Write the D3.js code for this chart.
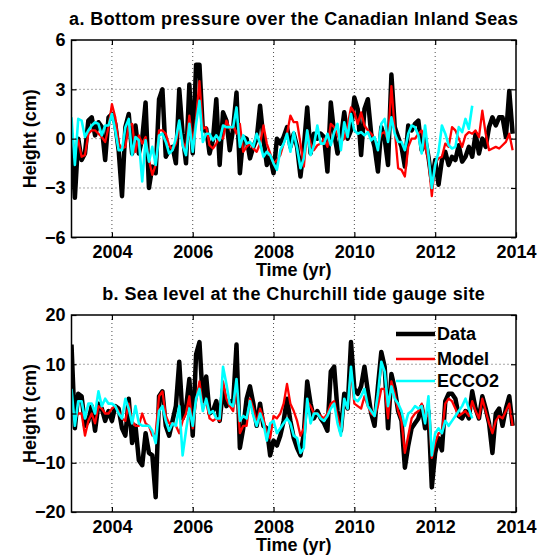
<!DOCTYPE html>
<html>
<head>
<meta charset="utf-8">
<title>Bottom pressure and Churchill sea level</title>
<style>
  body { margin: 0; background: #fff; }
  text { font-family: "Liberation Sans", Arial, Helvetica, sans-serif; font-weight: bold; fill: #000; }
  .grid line { stroke: #000; stroke-opacity: 0.7; stroke-dasharray: 1,3; }
</style>
</head>
<body>
<script src="https://cdnjs.cloudflare.com/ajax/libs/d3/7.8.5/d3.min.js"></script>
<script>
// monthly series, first value = Jan 2003
var startYear = 2003;
var xTicks = [2004, 2006, 2008, 2010, 2012, 2014];

// panel a: bottom pressure (cm)
var bpYTicks = [-6, -3, 0, 3, 6];
var bpData = [0.3,-3.6,0,-1.3,-0.9,1.1,1.3,0.2,1.0,0.7,-1.3,1.3,
  1.5,0.9,-0.7,-3.5,0.7,1.5,-0.9,0.8,-0.9,0,2.2,-3.0,
  -1.7,-2.1,2.4,3.0,-1.1,-0.7,-0.5,-1.5,3.0,0.3,-1.5,3.3,
  -0.9,4.5,4.5,0.5,0.6,-0.9,-0.1,2.4,-1.6,1.6,1.1,-0.7,
  0.6,2.8,-2.1,0.1,0,-1.2,-0.5,0,2.0,0,-1.6,-1.1,
  -2.1,0,-0.3,0.1,0.7,-0.5,0.3,-0.5,-2.3,-0.5,1.9,-0.9,
  0.3,0,0.3,0.1,-2.0,2.2,0.3,-0.9,0,1.6,0,0.5,
  2.5,1.8,-1.0,1.8,2.4,0.3,-0.5,-2.0,0.7,0,-1.6,3.9,
  0.7,0.1,-0.5,-1.7,0.8,0.5,0.9,1.1,-0.7,0,-1.1,-2.6,
  -1.3,-2.8,-1.3,-0.8,-1.6,-1.1,-1.3,-0.4,-1.4,-1.1,-0.5,-1.1,
  0.3,-0.9,0,-0.5,0.7,1.3,0.8,1.3,1.3,0.1,2.9,0.3];
var bpModel = [0.0,-0.8,-0.1,-1.1,-1.0,0.3,0.5,0.5,0.3,0.1,-0.2,0.7,
  2.1,1.3,-0.3,-0.6,-0.5,0.8,0.9,-0.8,0.2,-0.3,0.1,-1.3,
  -2.2,-1.6,0.5,0.5,0.3,-0.4,-0.7,-0.3,0.8,-0.2,-0.6,1.4,
  -0.3,1.2,3.5,0.6,0.7,-0.4,-0.6,-0.3,0.1,0.0,1.1,0.6,
  0.8,0.3,0.9,-0.8,-0.5,-0.3,-0.6,-0.8,-0.3,0.8,-0.3,-0.9,
  -1.5,-1.3,-1.0,-0.3,0.3,1.4,1.0,1.0,-0.3,-1.7,0.5,-0.3,
  -0.7,-0.4,-0.3,0.0,-0.5,0.9,0.7,0.2,-0.2,0.0,0.8,1.9,
  1.6,0.9,1.6,0.8,0.5,0.3,0.0,-0.4,0.3,0.4,-0.1,3.2,
  0.5,-1.8,-1.9,-2.3,-0.5,0.0,0.0,0.3,0.5,-0.5,-1.3,-3.5,
  -1.5,-1.2,-1.1,-0.3,-0.5,0.7,0.5,0.0,-0.5,0.2,0.4,0.3,
  0.5,0.1,1.7,0.3,-0.7,-0.6,-0.5,-0.6,-0.4,-0.2,0.3,-0.7];
var bpEcco = [1.3,-1.6,1.2,1.1,0.1,0.5,0.8,1.0,0.9,0.2,0.8,0.8,
  1.5,0.5,-0.7,-0.7,0.7,1.2,-1.0,0.1,-0.1,-2.6,-0.1,-1.4,
  -0.5,-1.6,0.2,0.3,-0.2,-0.9,-0.7,0.0,1.1,-0.4,-1.0,0.9,
  -0.8,0.9,2.3,-0.2,0.3,0.3,-0.1,0.2,-0.1,0.8,0.7,0.7,
  0.7,1.9,-0.5,0.2,-0.3,-0.2,-0.5,0.3,-0.3,-1.1,-0.8,-1.0,
  -1.5,-1.9,-0.7,-0.3,0.3,-0.8,0.4,-0.6,-1.8,-1.2,0.5,-1.0,
  -0.4,0.8,-0.3,-0.3,0.3,-0.4,0.4,0.9,-0.7,1.0,0.1,1.5,
  0.5,0.3,0.4,0.2,0.4,-0.1,0.1,-0.7,0.9,1.2,-0.2,1.3,
  0.3,-0.2,-0.2,-0.7,0.3,0.8,0.7,0.2,-0.9,0.8,-1.0,-3.0,
  -1.6,-0.8,0.8,0.3,-0.4,-0.6,-0.5,0.7,0.4,1.2,0.6,2.0];

// panel b: Churchill sea level (cm)
var slYTicks = [-20, -10, 0, 10, 20];
var slData = [14,-3,4,3.5,-2.5,-1.5,1.5,-3.5,2.0,1.0,-1.5,0.5,
  -1.5,1.5,1.0,-3.0,-4.5,3.0,-6.0,-2.5,-9.5,-10.5,-4.0,-8.0,
  -8.5,-17.0,3.5,4.5,-2.5,-4.5,-1.5,1.5,10.5,-1.0,1.0,7.0,
  -4.5,12.0,14.5,2.5,7.5,0.0,0.5,2.5,-1.5,5.0,1.5,2.5,
  2.0,14.0,-7.0,-3.0,3.0,5.5,2.0,-2.5,2.0,-2.5,-3.0,-8.5,
  -5.5,-6.5,-4.5,-1.5,3.0,-1.5,-5.0,-7.0,-8.5,-4.0,6.5,2.0,
  -1.0,0.5,-1.0,-2.0,-3.5,8.5,9.5,0.5,-3.5,4.0,1.0,14.5,
  5.0,4.0,5.5,9.5,4.5,0.0,-2.5,5.5,12.5,9.5,-3.0,8.0,
  5.0,0.5,-1.5,-11.0,-6.5,-3.0,-2.0,-1.0,1.5,-3.0,0.5,-15.0,
  -8.0,-5.0,-7.5,2.5,4.0,4.0,3.0,-0.5,-1.0,0.5,-1.0,4.5,
  1.0,-1.0,3.5,1.0,-2.0,-8.0,0.0,1.0,-2.5,1.0,3.5,-2.5];
var slModel = [1.0,-1.0,0.0,0.0,-4.5,-1.5,0.0,-2.0,1.5,1.0,0.0,0.0,
  1.0,1.5,0.5,-1.0,-1.5,2.0,-1.5,-2.5,-2.5,0.0,-2.0,-2.5,
  -4.5,-4.0,3.5,4.5,-0.5,-2.0,-2.0,-2.5,-4.0,-1.5,0.0,3.5,
  -3.0,2.5,6.5,1.0,2.5,-1.0,-1.5,-1.0,-1.5,6.5,3.0,1.5,
  0.5,6.0,-4.0,-2.5,-2.5,3.0,1.0,-2.0,1.0,-1.0,-4.0,-5.0,
  -0.5,-1.0,0.0,2.0,6.0,2.0,0.5,-1.5,-4.5,-3.0,2.5,1.5,
  0.0,0.0,-0.5,-1.0,0.0,2.0,2.5,-0.5,-3.5,2.5,1.0,8.5,
  2.0,1.5,1.0,3.5,1.5,0.0,-0.5,1.5,5.0,5.0,-1.0,6.5,
  4.0,0.5,-1.5,-8.0,-4.5,-1.0,0.0,0.5,2.0,-1.0,0.0,-9.0,
  -6.0,-4.0,-4.0,2.0,3.0,2.5,1.0,-0.5,0.0,0.5,-0.5,2.5,
  0.5,-1.0,3.0,0.5,-2.0,-4.0,-1.5,-0.5,-1.0,0.5,2.0,-2.5];
var slEcco = [5.0,-2.5,2.5,2.5,-1.0,2.0,2.0,0.0,4.5,1.5,3.0,2.0,
  2.0,1.5,0.0,-1.0,3.0,1.0,-2.0,1.5,-2.0,-2.5,-2.5,-2.5,
  -3.5,-6.0,0.5,1.5,-1.5,-3.5,-2.0,-2.5,1.5,-8.5,-3.5,1.0,
  -2.5,3.0,5.0,0.5,3.0,0.0,0.5,-1.0,-1.0,9.5,6.0,2.0,
  1.5,7.0,-1.5,-0.5,-1.0,2.5,-0.5,-2.5,0.0,-2.0,-5.5,-2.0,
  -1.5,-4.0,-3.0,-2.0,-1.0,-2.0,-4.5,-5.0,-8.0,-7.0,3.0,-2.0,
  0.0,0.0,-1.0,-1.5,-0.5,1.0,2.0,-2.0,-4.5,3.0,1.0,9.5,
  3.0,2.5,3.5,5.0,1.5,0.5,-0.5,4.0,10.5,8.5,1.5,5.5,
  3.0,2.0,0.5,-2.5,0.0,0.5,1.5,1.0,1.5,-2.0,3.5,-8.5,
  -4.0,-3.0,-4.0,-1.5,-2.5,-1.5,-0.5,0.5,1.5,3.0,1.0,-1.0];

var seriesNames = ["Data", "Model", "ECCO2"];
var seriesColors = ["#000000", "#ff0000", "#00ffff"];
var seriesWidths = [4.5, 2.3, 2.6];

var W = 537, H = 557;
var svg = d3.select("body").append("svg")
    .attr("width", W)
    .attr("height", H);

var left = 71.5, right = 516;

function drawPanel(top, bottom, yTicks, series, title, idx, showLegend) {
  var x = d3.scaleLinear().domain([2003, 2014]).range([left, right]);
  var y = d3.scaleLinear().domain([yTicks[0], yTicks[yTicks.length - 1]]).range([bottom, top]);

  var g = svg.append("g");

  // dotted grid
  var grid = g.append("g").attr("class", "grid");
  grid.selectAll(".gx").data(xTicks.slice(0, -1)).enter().append("line")
      .attr("x1", function(d) { return x(d); }).attr("x2", function(d) { return x(d); })
      .attr("y1", top).attr("y2", bottom);
  grid.selectAll(".gy").data(yTicks.slice(1, -1)).enter().append("line")
      .attr("x1", left).attr("x2", right)
      .attr("y1", function(d) { return y(d); }).attr("y2", function(d) { return y(d); });

  // clip for lines
  var clipId = "clip" + idx;
  svg.append("clipPath").attr("id", clipId).append("rect")
      .attr("x", left).attr("y", top).attr("width", right - left).attr("height", bottom - top);

  var line = d3.line()
      .x(function(d, i) { return x(startYear + i / 12); })
      .y(function(d) { return y(d); });

  series.forEach(function(s, k) {
    g.append("path")
        .datum(s)
        .attr("clip-path", "url(#" + clipId + ")")
        .attr("fill", "none")
        .attr("stroke", seriesColors[k])
        .attr("stroke-width", seriesWidths[k])
        .attr("stroke-linejoin", "round")
        .attr("d", line);
  });

  // axes (ticks inside, box all round)
  var tickLen = 5;
  var xb = g.append("g").attr("transform", "translate(0," + bottom + ")")
      .call(d3.axisBottom(x).tickValues(xTicks).tickSize(-tickLen).tickPadding(8).tickFormat(d3.format("d")));
  var xt = g.append("g").attr("transform", "translate(0," + top + ")")
      .call(d3.axisTop(x).tickValues(xTicks).tickSize(-tickLen).tickFormat(""));
  var yl = g.append("g").attr("transform", "translate(" + left + ",0)")
      .call(d3.axisLeft(y).tickValues(yTicks).tickSize(-tickLen).tickPadding(6)
        .tickFormat(function(d) { return d < 0 ? "\u2212" + Math.abs(d) : d; }));
  var yr = g.append("g").attr("transform", "translate(" + right + ",0)")
      .call(d3.axisRight(y).tickValues(yTicks).tickSize(-tickLen).tickFormat(""));
  [xb, xt, yl, yr].forEach(function(a) {
    a.select(".domain").remove();
    a.selectAll("line").attr("stroke", "#000").attr("stroke-width", 1.2);
    a.selectAll("text").style("font-size", "18px").style("font-family", null);
  });
  xb.selectAll("text").attr("dy", "0.71em");

  g.append("rect")
      .attr("x", left).attr("y", top)
      .attr("width", right - left).attr("height", bottom - top)
      .attr("fill", "none").attr("stroke", "#000").attr("stroke-width", 1.5);

  g.append("text")
      .attr("x", (left + right) / 2).attr("y", top - 15)
      .attr("text-anchor", "middle").style("font-size", "18px")
      .style("letter-spacing", "0.4px")
      .text(title);

  g.append("text")
      .attr("x", (left + right) / 2).attr("y", bottom + 39)
      .attr("text-anchor", "middle").style("font-size", "18px")
      .text("Time (yr)");

  g.append("text")
      .attr("transform", "translate(36," + (top + bottom) / 2 + ") rotate(-90)")
      .attr("text-anchor", "middle").style("font-size", "18px")
      .text("Height (cm)");

  if (showLegend) {
    var lg = g.append("g");
    var rowY = [334, 359, 381];
    seriesNames.forEach(function(name, k) {
      lg.append("line")
          .attr("x1", 396).attr("x2", 435)
          .attr("y1", rowY[k]).attr("y2", rowY[k])
          .attr("stroke", seriesColors[k]).attr("stroke-width", seriesWidths[k]);
      lg.append("text")
          .attr("x", 437).attr("y", rowY[k]).attr("dy", "0.35em")
          .style("font-size", "18px")
          .text(name);
    });
  }
}

drawPanel(40, 237.3, bpYTicks, [bpData, bpModel, bpEcco],
  "a. Bottom pressure over the Canadian Inland Seas", 0, false);
drawPanel(315, 512, slYTicks, [slData, slModel, slEcco],
  "b. Sea level at the Churchill tide gauge site", 1, true);
</script>
</body>
</html>
